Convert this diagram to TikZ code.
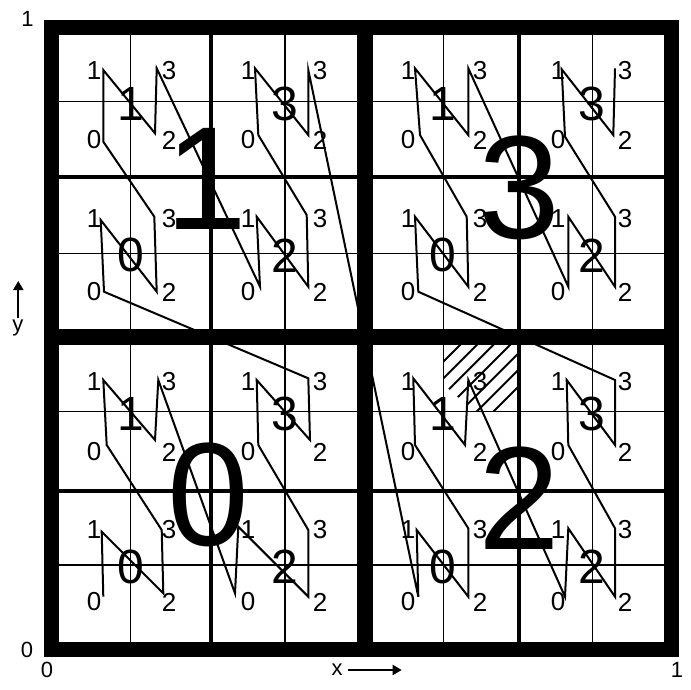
\documentclass[tikz,border=0pt]{standalone}
\usepackage{fontspec}
\setmainfont{Liberation Sans}
\usetikzlibrary{arrows.meta}
\begin{document}
\begin{tikzpicture}[x=1pt,y=-1pt,
  thinline/.style={line width=1.3pt},
  medline/.style={line width=4pt},
  thickline/.style={line width=16pt},
  curve/.style={line width=2pt, line join=miter},
  small/.style={inner sep=0pt, font=\fontsize{26}{26}\selectfont},
  medium/.style={inner sep=0pt, font=\fontsize{48}{48}\selectfont},
  big/.style={inner sep=0pt, font=\fontsize{147}{147}\selectfont},
  axislab/.style={inner sep=0pt, font=\fontsize{22}{22}\selectfont},
  hatchline/.style={line width=2pt}
]
\path[use as bounding box] (0,0) rectangle (691,689);
% hatched subcell
\begin{scope}
  \clip (443.3,337) -- (519,337) -- (519,411.7) -- (474,411.7) -- (443.3,384) -- cycle;
  \foreach \c in {805,821.7,838.3,855,871.7,888.3,905}
    \draw[hatchline] (\c-330,330) -- (\c-420,420);
\end{scope}
% thin grid
\foreach \gx in {130.7,285,443.3,592.3}
  \draw[thinline] (\gx,27.5) -- (\gx,649.2);
\foreach \gy in {101.7,253.3,411.7,565}
  \draw[thinline] (51.7,\gy) -- (671.5,\gy);
% medium grid
\foreach \gx in {210.5,519}
  \draw[medline] (\gx,27.5) -- (\gx,649.2);
\foreach \gy in {176.7,490.7}
  \draw[medline] (51.7,\gy) -- (671.5,\gy);
% thick centre cross
\draw[thickline] (365.3,27.5) -- (365.3,649.2);
\draw[thickline] (51.7,337) -- (671.5,337);
% border
\draw[line width=15pt, line join=miter] (51.7,27.5) rectangle (671.5,649.2);
% curve points
\foreach \px/\py [count=\i] in {
 103.3/596.7, 101.7/531.7, 163.3/593.3, 161.7/530,
 106.7/445, 103.3/380, 155/440, 158.3/380,
 235/593.3, 238.3/526.7, 308.3/596.7, 308.3/530,
 258.3/445, 256.7/380, 310/440, 308.3/378.3,
 104/291.7, 100.7/220, 156.7/291.7, 154.3/216.7,
 103.3/141.7, 103.3/70, 155/133.3, 156.7/68.3,
 260/286.7, 256.7/216.7, 308.3/286.7, 306.7/215,
 258.3/135, 255/68.3, 308.3/135, 308.3/70,
 418.3/596.7, 416.7/530, 468.3/596.7, 468.3/528.3,
 415/445, 413.3/378.3, 465/445, 468.3/380,
 565/596.7, 568.3/528.3, 615/596.7, 615/528.3,
 568.3/445, 566.7/380, 615/445, 615/380,
 418.3/291.7, 415/216.7, 468.3/286.7, 466.7/216.7,
 420/135, 415/68.3, 468.3/135, 468.3/68.3,
 568.3/286.7, 568.3/216.7, 615/286.7, 615/216.7,
 565/136.7, 561.7/69.3, 613.3/135, 615/68.3}
  \coordinate (P\i) at (\px,\py);
\draw[curve] (P1) \foreach \i in {2,...,64} { -- (P\i) };
% small labels
\foreach \la/\lb [count=\ci] in {94/169, 248/320, 408/480, 558/625}
  \foreach \ra/\rb [count=\ri] in {71/140, 219/292, 382/452, 530/602} {
    \node[small] (s\ci-\ri-0) at (\la,\rb) {0};
    \node[small] (s\ci-\ri-1) at (\la,\ra) {1};
    \node[small] (s\ci-\ri-2) at (\lb,\rb) {2};
    \node[small] (s\ci-\ri-3) at (\lb,\ra) {3};
  }
% medium labels
\foreach \mx/\my/\mt [count=\k] in {
  130.7/101.7/1, 285/101.7/3, 443.3/101.7/1, 592.3/101.7/3,
  130.7/253.3/0, 285/253.3/2, 443.3/253.3/0, 592.3/253.3/2,
  130.7/411.7/1, 285/411.7/3, 443.3/411.7/1, 592.3/411.7/3,
  130.7/565/0, 285/565/2, 443.3/565/0, 592.3/565/2}
  \node[medium] (m\k) at (\mx,\my+2) {\mt};
% big labels
\node[big] (b0) at (208,495) {0};
\node[big] (b1) at (206,179) {1};
\node[big] (b2) at (519,498) {2};
\node[big] (b3) at (519,187.5) {3};
% axes
\node[axislab] (ytop) at (27.5,19) {1};
\node[axislab] (yzero) at (27,650) {0};
\node[axislab] (xzero) at (47,670) {0};
\node[axislab] (xone) at (677,670) {1};
\node[axislab] (xlab) at (337,670) {x};
\node[axislab] (ylab) at (18,328) {y};
\coordinate (xa0) at (348.3,670);
\coordinate (xa1) at (401.7,670);
\coordinate (ya0) at (18.3,318);
\coordinate (ya1) at (18.3,281);
\draw[line width=2pt, -{Triangle[length=9pt,width=10pt]}] (xa0) -- (xa1);
\draw[line width=2pt, -{Triangle[length=9pt,width=10pt]}] (ya0) -- (ya1);
\end{tikzpicture}
\end{document}
